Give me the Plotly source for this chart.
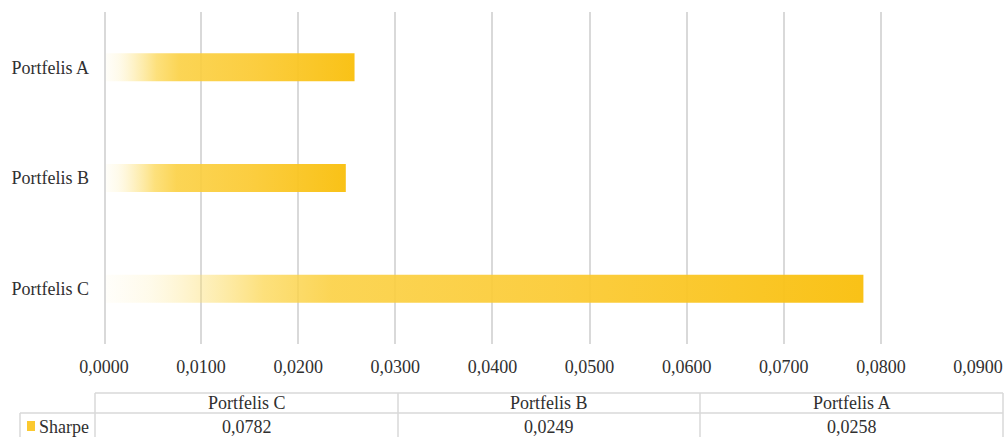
import plotly.graph_objects as go

categories = ["Portfelis C", "Portfelis B", "Portfelis A"]
sharpe = [0.0782, 0.0249, 0.0258]
series_name = "Sharpe"
x_ticks = [i / 100 for i in range(10)]

W, H = 1005, 437
L, R, T, B = 104, 27, 12, 93
PW, PH = W - L - R, H - T - B

FONT = "Liberation Serif"
TXT = "#303030"
GRID = "#D9D9D9"

grad = [[0.0, "rgba(253,236,170,0.05)"], [0.06, "rgba(253,232,150,0.2)"],
        [0.13, "rgba(252,222,110,0.45)"], [0.21, "rgba(252,214,80,0.75)"],
        [0.3, "rgba(251,208,66,0.9)"], [0.6, "rgba(251,202,50,0.93)"],
        [1.0, "rgba(249,192,16,0.97)"]]

half = 0.1265
fig = go.Figure()
for i, (cat, v) in enumerate(zip(categories, sharpe)):
    fig.add_trace(go.Scatter(
        x=[0, v, v, 0, 0], y=[i - half, i - half, i + half, i + half, i - half],
        fill="toself", mode="lines", line=dict(width=0, color="rgba(0,0,0,0)"),
        fillgradient=dict(type="horizontal", colorscale=grad),
        name=cat, showlegend=False, hoverinfo="skip"))


def px(xp):
    return (xp - L) / PW


def py(yp):
    return (H - B - yp) / PH


shapes = [
    dict(type="line", xref="x", yref="paper", x0=0, x1=0, y0=0, y1=1,
         line=dict(color=GRID, width=4), layer="above"),
]
line = dict(color=GRID, width=1.5)
col_x = [95, 398, 700, 1003]
top_y, mid_y, bot_y = 393, 413, 440
shapes.append(dict(type="line", xref="paper", yref="paper", x0=px(95), x1=px(1003), y0=py(top_y), y1=py(top_y), line=line))
shapes.append(dict(type="line", xref="paper", yref="paper", x0=px(20), x1=px(1003), y0=py(mid_y), y1=py(mid_y), line=line))
for cx in col_x:
    shapes.append(dict(type="line", xref="paper", yref="paper", x0=px(cx), x1=px(cx), y0=py(top_y), y1=py(bot_y), line=line))
shapes.append(dict(type="line", xref="paper", yref="paper", x0=px(20), x1=px(20), y0=py(mid_y), y1=py(bot_y), line=line))
shapes.append(dict(type="rect", xref="paper", yref="paper", x0=px(27), x1=px(35), y0=py(421), y1=py(431),
                   line=dict(width=0), fillcolor="#FBC930"))

annotations = []
for j, (cat, v) in enumerate(zip(categories, sharpe)):
    cx = (col_x[j] + col_x[j + 1]) / 2
    annotations.append(dict(xref="paper", yref="paper", x=px(cx), y=py(403), text=cat, showarrow=False,
                            xanchor="center", yanchor="middle", font=dict(family=FONT, size=18, color=TXT)))
    annotations.append(dict(xref="paper", yref="paper", x=px(cx), y=py(427), text=f"{v:.4f}".replace(".", ","),
                            showarrow=False, xanchor="center", yanchor="middle",
                            font=dict(family=FONT, size=18, color=TXT)))
annotations.append(dict(xref="paper", yref="paper", x=px(37), y=py(427), text=series_name, showarrow=False,
                        xanchor="left", yanchor="middle", font=dict(family=FONT, size=18, color=TXT)))

fig.update_layout(
    width=W, height=H,
    margin=dict(l=L, r=R, t=T, b=B, pad=0, autoexpand=False),
    paper_bgcolor="white", plot_bgcolor="white",
    separators=",.",
    font=dict(family=FONT, size=18, color=TXT),
    shapes=shapes, annotations=annotations,
    xaxis=dict(range=[0, 0.09], tickvals=x_ticks, tickformat=".4f", showgrid=True,
               gridcolor=GRID, gridwidth=1.5, zeroline=False, showline=False, ticks="",
               ticklabelstandoff=10, fixedrange=True, automargin=False),
    yaxis=dict(range=[-0.5, 2.5], tickvals=list(range(len(categories))), ticktext=categories,
               showgrid=False, zeroline=False, showline=False, ticks="", ticklabelstandoff=14,
               fixedrange=True, automargin=False),
)

fig.write_html("out.html", config={"displayModeBar": False})
